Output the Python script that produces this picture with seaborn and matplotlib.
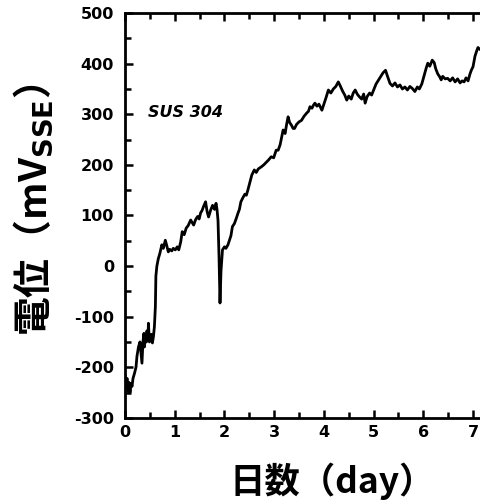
import matplotlib
matplotlib.use("Agg")
import matplotlib.pyplot as plt
import seaborn as sns
import pandas as pd
from matplotlib.ticker import MultipleLocator

sns.set_theme(style="ticks")
plt.rcParams['font.family'] = ['DejaVu Sans']
plt.rcParams['mathtext.fontset'] = 'dejavusans'
plt.rcParams['axes.unicode_minus'] = False
plt.rcParams['text.color'] = 'black'

# potential vs. time (10 points per row)
day = [0.00, 0.02, 0.04, 0.06, 0.08, 0.10, 0.12, 0.14, 0.16, 0.19,
       0.22, 0.24, 0.27, 0.30, 0.32, 0.34, 0.36, 0.38, 0.39, 0.41,
       0.43, 0.44, 0.46, 0.47, 0.49, 0.51, 0.53, 0.55, 0.57, 0.59,
       0.61, 0.62, 0.64, 0.67, 0.70, 0.74, 0.77, 0.81, 0.84, 0.87,
       0.90, 0.94, 0.97, 1.01, 1.05, 1.08, 1.12, 1.15, 1.19, 1.23,
       1.27, 1.32, 1.35, 1.38, 1.42, 1.46, 1.49, 1.52, 1.55, 1.58,
       1.62, 1.65, 1.68, 1.72, 1.76, 1.80, 1.83, 1.85, 1.87, 1.89,
       1.91, 1.93, 1.96, 2.00, 2.03, 2.07, 2.10, 2.13, 2.16, 2.20,
       2.24, 2.27, 2.30, 2.33, 2.37, 2.41, 2.44, 2.47, 2.51, 2.55,
       2.60, 2.64, 2.68, 2.74, 2.79, 2.84, 2.89, 2.94, 2.99, 3.04,
       3.08, 3.12, 3.15, 3.18, 3.22, 3.25, 3.28, 3.31, 3.35, 3.38,
       3.41, 3.45, 3.50, 3.55, 3.60, 3.65, 3.69, 3.72, 3.76, 3.79,
       3.82, 3.86, 3.90, 3.96, 4.00, 4.05, 4.09, 4.14, 4.19, 4.24,
       4.29, 4.33, 4.38, 4.42, 4.46, 4.50, 4.55, 4.59, 4.63, 4.67,
       4.71, 4.76, 4.80, 4.83, 4.87, 4.92, 4.96, 5.00, 5.05, 5.10,
       5.14, 5.19, 5.24, 5.28, 5.33, 5.38, 5.43, 5.48, 5.53, 5.58,
       5.63, 5.68, 5.73, 5.78, 5.83, 5.88, 5.92, 5.97, 6.02, 6.06,
       6.09, 6.13, 6.18, 6.22, 6.25, 6.29, 6.33, 6.36, 6.39, 6.44,
       6.49, 6.54, 6.59, 6.64, 6.69, 6.74, 6.78, 6.82, 6.86, 6.90,
       6.94, 6.97, 7.00, 7.04, 7.08, 7.10, 7.14, 7.18, 7.20]
mv = [-215, -240, -222, -248, -230, -250, -232, -238, -222, -212,
      -200, -178, -160, -150, -172, -192, -150, -133, -160, -138,
      -150, -128, -146, -113, -150, -145, -135, -152, -140, -120,
      -80, -20, 0, 15, 25, 42, 35, 51, 40, 28,
      33, 30, 35, 32, 38, 32, 48, 68, 62, 75,
      80, 91, 86, 81, 92, 98, 93, 105, 110, 118,
      127, 108, 97, 110, 120, 112, 124, 112, 90, 20,
      -73, -10, 32, 38, 35, 42, 51, 60, 78, 84,
      95, 104, 112, 127, 135, 142, 140, 150, 165, 180,
      190, 185, 192, 196, 200, 205, 210, 216, 214, 229,
      229, 240, 255, 269, 262, 280, 295, 284, 278, 272,
      272, 280, 285, 288, 296, 302, 306, 315, 312, 318,
      322, 316, 320, 308, 320, 335, 348, 342, 350, 355,
      364, 356, 345, 338, 328, 336, 330, 342, 348, 340,
      335, 330, 340, 322, 335, 342, 338, 348, 360, 368,
      374, 382, 387, 375, 361, 356, 362, 354, 358, 350,
      354, 348, 355, 351, 345, 354, 350, 360, 378, 392,
      401, 395, 407, 402, 390, 380, 374, 368, 375, 370,
      371, 366, 372, 364, 370, 362, 366, 364, 372, 366,
      380, 388, 394, 415, 427, 432, 428, 430, 430]

df = pd.DataFrame({"day": day, "mv": mv})

fig = plt.figure(figsize=(4.81, 5.04), dpi=100)
ax = fig.add_axes([0.26, 0.171, 0.742, 0.803])

sns.lineplot(data=df, x="day", y="mv", ax=ax, color="black", linewidth=2.0,
             sort=False, estimator=None)

ax.set_xlim(0, 7.18)
ax.set_ylim(-300, 500)
ax.xaxis.set_major_locator(MultipleLocator(1))
ax.xaxis.set_minor_locator(MultipleLocator(0.5))
ax.yaxis.set_major_locator(MultipleLocator(100))
ax.yaxis.set_minor_locator(MultipleLocator(50))
ax.tick_params(which="both", direction="in", top=True, right=False, width=1.8,
               color="black")
ax.tick_params(which="major", length=6)
ax.tick_params(which="minor", length=4)
ax.tick_params(axis="y", pad=8)
ax.tick_params(axis="x", pad=5)
for lab in ax.get_xticklabels() + ax.get_yticklabels():
    lab.set_family("DejaVu Sans")
    lab.set_fontweight("bold")
    lab.set_fontsize(11.5)
    lab.set_color("black")

for side in ["left", "bottom", "top"]:
    ax.spines[side].set_linewidth(2.0)
    ax.spines[side].set_color("black")
ax.spines["right"].set_visible(False)

ax.set_xlabel("")
ax.set_ylabel("")
ax.grid(False)

ax.text(1.22, 304, "SUS 304", fontsize=11.5, fontweight="bold", fontstyle="italic",
        color="black", ha="center", va="center")

cjk = ['Noto Sans CJK JP', 'DejaVu Sans']
fig.text(0.69, 0.045, "日数（day）", fontsize=25.5, fontweight="bold",
         family=cjk, color="black", ha="center", va="center")
fig.text(0.068, 0.583, "電位（mV$_{\\mathbf{SSE}}$）", fontsize=28, fontweight="bold",
         family=cjk, color="black", rotation=90, ha="center", va="center")

fig.savefig("out.png", dpi=100)
